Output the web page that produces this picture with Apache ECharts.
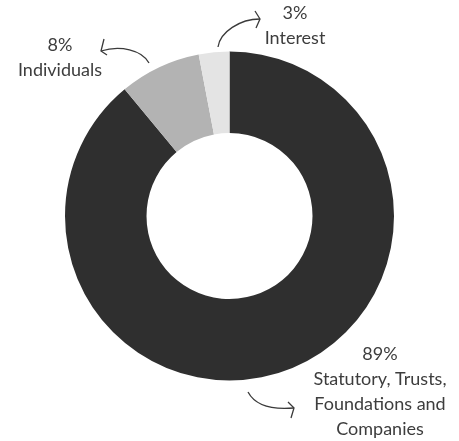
<!DOCTYPE html>
<html>
<head>
<meta charset="utf-8">
<script src="https://cdn.jsdelivr.net/npm/echarts@6/dist/echarts.min.js"></script>
<style>
html,body{margin:0;padding:0;background:#fff;}
#main{width:459px;height:441px;}
</style>
</head>
<body>
<div id="main"></div>
<script>
const categories = ['Statutory, Trusts,\nFoundations and\nCompanies', 'Individuals', 'Interest'];
const values = [89, 8, 3];
const sliceColors = ['#2f2f2f', '#b3b3b3', '#e4e4e4'];

const labelCenters = [[380, 392], [60, 58], [295, 26]];

const chart = echarts.init(document.getElementById('main'), null, {renderer: 'canvas'});

function arrow(path, head) {
  return [
    {type: 'bezierCurve', shape: path, style: {stroke: '#3a3a3a', lineWidth: 1.3, fill: null}},
    {type: 'polyline', shape: {points: head}, style: {stroke: '#3a3a3a', lineWidth: 1.3, fill: null}}
  ];
}

chart.setOption({
  backgroundColor: '#ffffff',
  animation: false,
  series: [{
    type: 'pie',
    center: [229.5, 216],
    radius: [83, 164.5],
    startAngle: 90,
    clockwise: true,
    avoidLabelOverlap: false,
    data: categories.map((c, i) => ({name: c, value: values[i], itemStyle: {color: sliceColors[i]}})),
    itemStyle: {borderWidth: 0},
    label: {
      show: true,
      formatter: p => p.value + '%\n' + p.name,
      fontFamily: 'Lato',
      fontSize: 18,
      lineHeight: 25,
      color: '#3d3d3d',
      align: 'center'
    },
    labelLine: {show: false},
    labelLayout: function (params) {
      const c = labelCenters[params.dataIndex];
      return {x: c[0], y: c[1], align: 'center', verticalAlign: 'middle'};
    },
    emphasis: {disabled: true}
  }],
  graphic: [
    ...arrow({x1: 149, y1: 63, cpx1: 142, cpy1: 50, cpx2: 120, cpy2: 45, x2: 101, y2: 51}, [[104, 39], [101, 51], [107, 55]]),
    ...arrow({x1: 218, y1: 47, cpx1: 220, cpy1: 32, cpx2: 240, cpy2: 19, x2: 260, y2: 19}, [[255, 11], [260, 19], [256, 28]]),
    ...arrow({x1: 248, y1: 392, cpx1: 255, cpy1: 405, cpx2: 272, cpy2: 410, x2: 294, y2: 408}, [[288, 402], [294, 408], [291, 418]])
  ]
});
</script>
</body>
</html>
